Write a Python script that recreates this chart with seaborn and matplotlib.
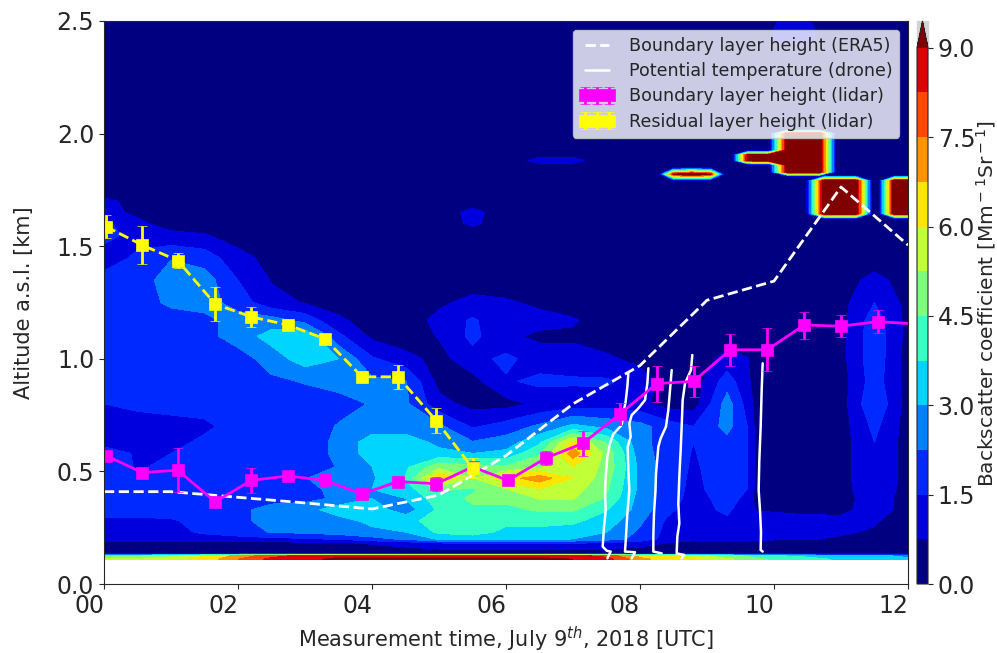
import matplotlib
matplotlib.use('Agg')
import matplotlib.pyplot as plt
from matplotlib.patches import Rectangle
import numpy as np
import pandas as pd
import seaborn as sns

sns.set_style('ticks')
plt.rcParams['font.family'] = ['DejaVu Sans']

# backscatter field
times = [0, .5, 1, 1.5, 2, 2.5, 3, 3.5, 4, 4.5, 5, 5.5, 6, 6.5, 7, 7.5, 8, 8.4, 8.8, 9.3, 9.6, 9.75, 10.4, 11, 11.5, 12]
alts = [.11, .125, .135, .18, .20, .23, .28, .33, .38, .42, .47, .52, .58, .63, .70, .80, .90, 1.0, 1.1, 1.17, 1.25,
        1.35, 1.45, 1.55, 1.6, 1.65, 1.7, 1.74, 1.8, 1.85, 1.88, 1.92, 2.0, 2.5]
backscatter = [
    [5.6, 5.6, 5.8, 6.2, 7.5, 8.5, 8.8, 9.2, 9.2, 9.2, 9.2, 9.2, 9.2, 9.2, 9.0, 8.6, 7.0, 6.4, 6.2, 5.4, 5.0, 4.6, 4.2, 3.6, 3.6, 3.2],
    [4.4, 4.4, 5.0, 6.0, 7.0, 8.0, 8.5, 8.8, 8.8, 8.8, 8.8, 8.8, 8.8, 8.8, 8.5, 8.0, 6.5, 6.0, 5.6, 4.8, 4.4, 4.0, 3.6, 3.2, 3.2, 2.8],
    [.3] * 26,
    [.4, .4, .4, .4, .4, .4, .5, .5, .8, 1.0, 1.3, 1.5, 1.5, 1.5, 1.4, 1.3, 1.0, .7, .4, .4, .4, .4, .4, .4, .4, .4],
    [1.2, 1.2, 1.2, 1.2, 1.2, 1.3, 1.4, 1.6, 2.0, 2.4, 3.1, 3.4, 3.4, 3.3, 3.0, 2.6, 2.0, 1.2, 1.0, .9, .9, .9, .8, .7, .6, .5],
    [1.3, 1.3, 1.3, 1.6, 1.9, 2.3, 2.4, 2.6, 2.8, 3.0, 3.9, 4.0, 3.6, 3.5, 3.4, 3.0, 2.1, 1.3, 1.1, 1.0, 1.0, 1.0, .9, .8, .7, .5],
    [1.3, 1.3, 1.4, 1.8, 2.0, 2.6, 2.7, 2.7, 3.2, 3.5, 4.1, 4.2, 3.9, 4.0, 3.9, 3.4, 2.4, 1.4, 1.1, 1.3, 1.1, 1.1, 1.1, 1.0, .8, .5],
    [1.9, 1.9, 1.9, 2.0, 2.0, 2.6, 2.7, 3.4, 3.4, 2.6, 3.9, 4.4, 4.3, 4.6, 4.6, 3.8, 2.7, 1.7, 1.1, 1.7, .9, .7, .5, .5, 1.2, .4],
    [2.0, 2.1, 2.1, 2.1, 1.9, 1.9, 2.0, 2.4, 3.0, 3.0, 4.2, 4.6, 4.7, 5.3, 5.3, 4.4, 2.7, 1.9, 1.2, 1.8, 1.3, .4, .3, .4, 1.2, .4],
    [2.0, 2.0, 2.0, 1.9, 1.9, 1.9, 2.0, 2.5, 3.0, 3.4, 4.6, 4.4, 5.2, 5.9, 5.6, 4.6, 2.8, 1.9, 1.3, 1.9, 1.5, .4, .3, .4, 1.4, .4],
    [2.1, 1.6, 1.9, 1.9, 2.0, 2.0, 2.2, 2.8, 2.9, 3.8, 6.8, 5.2, 6.4, 7.2, 6.0, 4.8, 2.8, 1.9, 1.35, 1.9, 1.5, .4, .3, .4, 1.5, .4],
    [2.2, 1.4, 1.7, 1.9, 1.9, 1.9, 1.8, 2.3, 3.0, 3.6, 5.0, 4.8, 4.6, 5.2, 6.0, 5.0, 2.8, 1.9, 1.4, 1.9, 1.5, .4, .3, .4, 1.5, .4],
    [1.9, 1.4, 1.5, 1.9, 1.9, 1.9, 1.9, 2.4, 3.4, 3.4, 3.2, 3.0, 3.2, 4.4, 7.2, 5.0, 2.6, 1.9, 1.45, 2.0, 1.5, .4, .3, .4, 1.5, .4],
    [1.2, 1.1, 1.2, 1.7, 1.9, 1.9, 1.9, 2.4, 3.4, 3.4, 2.8, 2.3, 2.6, 3.6, 6.2, 4.4, 2.5, 1.9, 1.5, 2.0, 1.5, .4, .3, .4, 1.5, .4],
    [1.1, 1.1, 1.1, 1.3, 1.9, 1.9, 1.9, 2.3, 2.6, 2.6, 2.4, 1.4, 1.8, 2.4, 3.2, 2.8, 2.5, 1.9, 1.5, 2.5, 1.5, .4, .3, .4, 1.7, .4],
    [1.5, 1.7, 1.9, 1.9, 1.9, 1.9, 1.9, 2.0, 2.3, 2.4, 1.0, .5, .5, .9, 1.1, 1.2, 1.0, .4, .4, 2.6, 1.2, .4, .3, .4, 2.2, .4],
    [1.7, 1.9, 1.9, 1.9, 1.9, 2.1, 2.3, 2.5, 2.4, 2.3, .5, .5, 1.4, 1.7, 1.6, 1.6, 1.2, .3, .3, 1.9, .9, .4, .3, .4, 1.9, .4],
    [1.9, 1.9, 1.9, 1.9, 1.9, 2.6, 3.4, 3.0, 1.6, 1.0, .5, 1.2, 1.7, 1.1, 1.1, .9, .5, .3, .3, 1.0, .8, .3, .3, .5, 2.0, .4],
    [1.9, 1.9, 1.9, 2.0, 2.6, 3.3, 3.6, 1.7, .6, .3, .8, 1.7, .9, .6, .6, .3, .3, .3, .3, .3, .3, .3, .3, .5, 2.0, .5],
    [1.9, 1.9, 1.9, 2.0, 2.6, 2.6, 2.0, .9, .4, .3, 1.0, 1.6, 1.0, 1.0, .85, .3, .3, .3, .3, .3, .3, .3, .3, .5, 1.9, .5],
    [1.9, 1.9, 2.4, 2.6, 1.9, 1.0, .7, .4, .3, .3, .6, 1.0, .85, .6, .3, .3, .3, .3, .3, .3, .3, .3, .3, .5, 1.5, .5],
    [1.7, 1.9, 2.6, 2.6, 1.5, .7, .3, .3, .3, .3, .3, .3, .3, .3, .3, .3, .3, .3, .3, .3, .3, .3, .3, .4, 1.0, .4],
    [1.2, 1.6, 2.2, 1.9, 1.0, .5, .3, .3, .3, .3, .3, .3, .3, .3, .3, .3, .3, .3, .3, .3, .3, .3, .3, .3, .3, .3],
    [1.7, 1.3, .9, .8, .4, .3, .3, .3, .3, .3, .3, .3, .3, .3, .3, .3, .3, .3, .3, .3, .3, .3, .3, .3, .3, .3],
    [1.7, .9, .5, .3, .3, .3, .3, .3, .3, .3, .3, .9, .3, .3, .3, .3, .3, .3, .3, .3, .3, .3, .3, .3, .3, .3],
    [1.0, .6, .3, .3, .3, .3, .3, .3, .3, .3, .3, 1.0, .3, .3, .3, .3, .3, .3, .3, .3, .3, .3, .3, .3, .3, .3],
    [1.0, .4, .3, .3, .3, .3, .3, .3, .3, .3, .3, .3, .3, .3, .3, .3, .3, .3, .3, .3, .3, .3, .3, .3, .3, .3],
    [.3] * 26,
    [.3] * 26,
    [.3] * 26,
    [.3, .3, .3, .3, .3, .3, .3, .3, .3, .3, .3, .3, .3, 1.0, 1.0, .3, .3, .3, .3, .3, .3, .3, .3, .3, .3, .3],
    [.3] * 26,
    [.3] * 26,
    [.3] * 26,
]

# cloud layers at the top right
lens_t = [8.27, 8.5, 8.77, 9.05, 9.27]
lens_a = [1.79, 1.82, 1.85]
lens_z = [[0, 0, 0, 0, 0], [0, 9, 10, 9, 0], [0, 0, 0, 0, 0]]

plume_t = [9.37, 9.6, 9.92, 10.2, 10.68, 10.94]
plume_a = [1.81, 1.83, 1.862, 1.88, 1.905, 1.925, 2.0, 2.02]
plume_z = [[0, 0, 0, 0, 0, 0], [0, 0, 0, 10, 10, 0], [0, 0, 0, 10, 10, 0], [0, 9, 9.5, 10, 10, 0],
           [0, 9, 9.5, 10, 10, 0], [0, 0, 0, 10, 10, 0], [0, 0, 0, 10, 10, 0], [0, 0, 0, 0, 0, 0]]

dome_t = [10.47, 10.75, 11.22, 11.48]
dome_a = [1.62, 1.645, 1.79, 1.815]
dome_z = [[0, 0, 0, 0], [0, 10, 10, 0], [0, 10, 10, 0], [0, 0, 0, 0]]

edge_t = [11.55, 11.8, 12.0]
edge_a = [1.62, 1.645, 1.79, 1.815]
edge_z = [[0, 0, 0], [0, 10, 10], [0, 10, 10], [0, 0, 0]]

high_t = [9.8, 10.1, 10.5, 10.8]
high_a = [2.38, 2.41, 2.46, 2.5]
high_z = [[0, 0, 0, 0], [0, 1.2, 1.2, 0], [0, 1.2, 1.2, 0], [0, .9, .9, 0]]

# hourly ERA5 boundary layer
era5_t = [0, 1, 2, 3, 4, 5, 6, 7, 8, 9, 10, 11, 12]
era5_h = [.41, .41, .385, .36, .333, .395, .57, .80, .97, 1.26, 1.345, 1.763, 1.505]

# lidar retrievals
bl_t = [.03, .57, 1.1, 1.66, 2.2, 2.75, 3.3, 3.85, 4.39, 4.96, 5.5, 6.03, 6.6, 7.15, 7.7, 8.25, 8.8, 9.35, 9.9, 10.45, 11.0, 11.55, 12.1]
bl_h = [.57, .495, .505, .365, .46, .48, .46, .40, .455, .445, .52, .46, .56, .625, .755, .89, .90, 1.04, 1.04, 1.15, 1.145, 1.165, 1.155]
bl_err = [.02, .02, .097, .02, .055, .02, .03, .02, .02, .03, .02, .02, .03, .055, .05, .08, .07, .07, .095, .06, .05, .05, 0]

rl_t = [.03, .57, 1.1, 1.66, 2.2, 2.75, 3.3, 3.85, 4.39, 4.96, 5.5]
rl_h = [1.587, 1.505, 1.436, 1.243, 1.186, 1.15, 1.088, .92, .92, .725, .515]
rl_err = [.052, .083, .035, .074, .045, .01, .01, .015, .054, .055, .045]

# drone profiles
drone = [
    ([7.826, 7.811, 7.786, 7.751, 7.727, 7.602, 7.553, 7.513, 7.488, 7.478, 7.488, 7.463, 7.443, 7.503, 7.562, 7.513],
     [.935, .876, .81, .758, .706, .666, .625, .565, .477, .403, .328, .254, .166, .148, .144, .114]),
    ([8.125, 8.11, 8.075, 7.975, 7.876, 7.841, 7.861, 7.816, 7.826, 7.841, 7.811, 7.791, 7.776, 7.926, 7.876],
     [.958, .891, .817, .78, .75, .713, .654, .61, .506, .417, .314, .21, .144, .141, .114]),
    ([8.473, 8.448, 8.423, 8.388, 8.309, 8.274, 8.239, 8.229, 8.209, 8.199, 8.199, 8.324],
     [.95, .861, .773, .699, .647, .61, .491, .403, .314, .21, .144, .136]),
    ([8.781, 8.761, 8.672, 8.637, 8.622, 8.607, 8.587, 8.572, 8.587, 8.557, 8.547, 8.662, 8.622],
     [1.017, .95, .891, .817, .699, .595, .477, .358, .269, .21, .136, .129, .114]),
    ([9.831, 9.816, 9.801, 9.781, 9.771, 9.791, 9.806, 9.801, 9.831],
     [.98, .861, .699, .551, .417, .328, .232, .151, .144]),
]

x_ticks = [0, 2, 4, 6, 8, 10, 12]
x_labels = ['00', '02', '04', '06', '08', '10', '12']
y_ticks = [0, .5, 1, 1.5, 2, 2.5]
cb_ticks = [0, 1.5, 3, 4.5, 6, 7.5, 9]
levels = np.arange(0, 9.01, .75)
jet = plt.get_cmap('jet')
band_colors = [jet(i / 12) for i in range(13)]

fig = plt.figure(figsize=(9.97, 6.53), dpi=100)
ax = fig.add_axes([104 / 997, 69 / 653, 804 / 997, 563 / 653])
cax = fig.add_axes([917 / 997, 69 / 653, 11 / 997, 563 / 653])

cf = ax.contourf(times, alts, backscatter, levels=levels, colors=band_colors, extend='max')
for t, a, z in [(lens_t, lens_a, lens_z), (plume_t, plume_a, plume_z), (dome_t, dome_a, dome_z), (edge_t, edge_a, edge_z), (high_t, high_a, high_z)]:
    ax.contourf(t, a, z, levels=levels[1:], colors=band_colors[1:], extend='max')

era5 = pd.DataFrame({'t': era5_t, 'h': era5_h})
sns.lineplot(data=era5, x='t', y='h', color='white', lw=2, linestyle='--', ax=ax, label='Boundary layer height (ERA5)')
for i, (t, h) in enumerate(drone):
    sns.lineplot(x=t, y=h, sort=False, estimator=None, color='white', lw=1.8, ax=ax,
                 label='Potential temperature (drone)' if i == 0 else None)

ax.errorbar(bl_t, bl_h, yerr=bl_err, color='magenta', marker='s', ms=9, mew=.5, lw=2, elinewidth=2, capsize=3.6, capthick=1.5,
            label='Boundary layer height (lidar)')
ax.errorbar(rl_t, rl_h, yerr=rl_err, color='yellow', marker='s', ms=9, mew=.5, lw=2, ls='--', elinewidth=2, capsize=3.6, capthick=1.5,
            label='Residual layer height (lidar)')

ax.set_xlim(0, 12)
ax.set_ylim(0, 2.5)
ax.set_xticks(x_ticks)
ax.set_xticklabels(x_labels, ha='right')
ax.set_yticks(y_ticks)
ax.tick_params(labelsize=17)
ax.set_xlabel('Measurement time, July 9$^{th}$, 2018 [UTC]', fontsize=15, labelpad=5)
ax.set_ylabel('Altitude a.s.l. [km]', fontsize=15, labelpad=16)
ax.legend(loc='upper right', fontsize=12.6, numpoints=3, labelspacing=.42)

cb = fig.colorbar(cf, cax=cax, ticks=cb_ticks)
cb.ax.tick_params(labelsize=17)
cb.set_label('Backscatter coefficient [Mm$^-$$^1$Sr$^-$$^1$]', fontsize=14.5)
cb.ax.yaxis.set_label_coords(5.2, .522)

# light grey box behind the colorbar tip
fig.add_artist(Rectangle((917 / 997, 605 / 653), 11 / 997, 27 / 653, transform=fig.transFigure, color='lightgrey', zorder=-1))

plt.savefig('out.png', dpi=100)
